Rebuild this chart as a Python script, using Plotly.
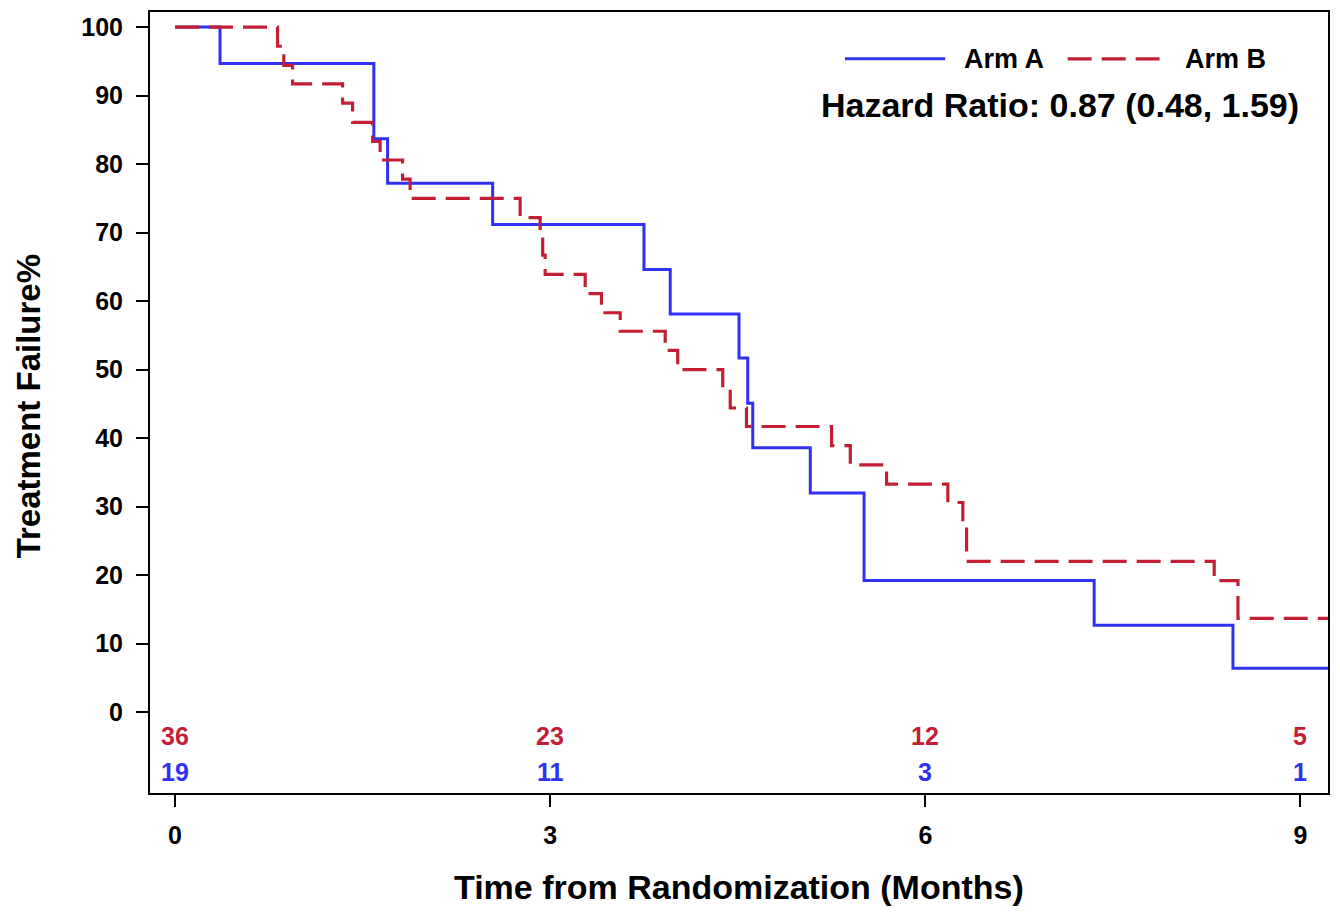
import plotly.graph_objects as go

# Arm A (blue, solid) Kaplan-Meier style steps
arm_a_t = [0, 0.36, 1.59, 1.70, 2.54, 3.75, 3.96, 4.51, 4.58, 4.62, 5.08, 5.51, 7.35, 8.46, 9.22]
arm_a_v = [100, 94.7, 83.7, 77.2, 71.2, 64.6, 58.1, 51.7, 45.1, 38.6, 32.0, 19.2, 12.7, 6.4, 6.4]

# Arm B (red, dashed)
arm_b_t = [0, 0.82, 0.87, 0.94, 1.34, 1.42, 1.58, 1.64, 1.82, 1.88, 2.76, 2.92, 2.94, 2.96,
           3.28, 3.41, 3.56, 3.92, 4.02, 4.38, 4.44, 4.57, 5.25, 5.40, 5.69, 6.18, 6.30, 6.33,
           8.31, 8.50, 9.22]
arm_b_v = [100, 97.2, 94.4, 91.7, 88.9, 86.1, 83.3, 80.6, 77.8, 75.0, 72.2, 69.4, 66.7, 63.9,
           61.1, 58.3, 55.6, 52.8, 50.0, 47.2, 44.4, 41.7, 38.9, 36.1, 33.3, 30.6, 27.8, 22.0,
           19.2, 13.7, 13.7]

# Numbers at risk
risk_times = [0, 3, 6, 9]
risk_b = [36, 23, 12, 5]
risk_a = [19, 11, 3, 1]

x_ticks = [0, 3, 6, 9]
y_ticks = list(range(0, 101, 10))

BLUE = "#3030f2"
RED = "#c21f35"
FONT = "Liberation Sans, Arial, sans-serif"

fig = go.Figure()
fig.add_trace(go.Scatter(x=arm_a_t, y=arm_a_v, mode="lines", line_shape="hv",
                         line=dict(color=BLUE, width=3), name="Arm A"))
fig.add_trace(go.Scatter(x=arm_b_t, y=arm_b_v, mode="lines", line_shape="hv",
                         line=dict(color=RED, width=3.2, dash="24px,10px"), name="Arm B"))

ann = []
for t, n in zip(risk_times, risk_b):
    ann.append(dict(x=t, y=-3.5, xref="x", yref="y", text=f"<b>{n}</b>", showarrow=False,
                    font=dict(family=FONT, size=25, color=RED), xanchor="center", yanchor="middle"))
for t, n in zip(risk_times, risk_a):
    ann.append(dict(x=t, y=-8.7, xref="x", yref="y", text=f"<b>{n}</b>", showarrow=False,
                    font=dict(family=FONT, size=25, color=BLUE), xanchor="center", yanchor="middle"))

# legend texts
ann.append(dict(x=0.689, y=0.940, xref="paper", yref="paper", text="<b>Arm A</b>", showarrow=False,
                font=dict(family=FONT, size=27, color="black"), xanchor="left", yanchor="middle"))
ann.append(dict(x=0.877, y=0.940, xref="paper", yref="paper", text="<b>Arm B</b>", showarrow=False,
                font=dict(family=FONT, size=27, color="black"), xanchor="left", yanchor="middle"))
ann.append(dict(x=0.7725, y=0.881, xref="paper", yref="paper",
                text="<b>Hazard Ratio: 0.87 (0.48, 1.59)</b>", showarrow=False,
                font=dict(family=FONT, size=34, color="black"), xanchor="center", yanchor="middle"))
# axis titles
ann.append(dict(x=0.5, y=-0.12, xref="paper", yref="paper",
                text="<b>Time from Randomization (Months)</b>", showarrow=False,
                font=dict(family=FONT, size=34, color="black"), xanchor="center", yanchor="middle"))
ann.append(dict(x=-0.1036, y=0.495, xref="paper", yref="paper",
                text="<b>Treatment Failure%</b>", showarrow=False, textangle=-90,
                font=dict(family=FONT, size=33, color="black"), xanchor="center", yanchor="middle"))

shapes = [
    dict(type="line", xref="paper", yref="paper", x0=0.590, x1=0.675, y0=0.940, y1=0.940,
         line=dict(color=BLUE, width=3)),
    dict(type="line", xref="paper", yref="paper", x0=0.779, x1=0.857, y0=0.940, y1=0.940,
         line=dict(color=RED, width=3.2, dash="24px,10px")),
]

fig.update_layout(
    width=1340, height=912,
    margin=dict(l=150, r=12, t=10, b=119),
    plot_bgcolor="white", paper_bgcolor="white",
    showlegend=False,
    annotations=ann, shapes=shapes,
    xaxis=dict(range=[-0.2, 9.22], tickvals=x_ticks, ticktext=[str(v) for v in x_ticks],
               showgrid=False, zeroline=False, showline=True, linecolor="black", linewidth=2,
               mirror=True, ticks="outside", ticklen=12, tickwidth=2, tickcolor="black",
               ticklabelstandoff=7,
               tickfont=dict(family=FONT, size=25, color="black", weight="bold")),
    yaxis=dict(range=[-11.8, 102.2], tickvals=y_ticks, ticktext=[str(v) for v in y_ticks],
               showgrid=False, zeroline=False, showline=True, linecolor="black", linewidth=2,
               mirror=True, ticks="outside", ticklen=12, tickwidth=2, tickcolor="black",
               ticklabelstandoff=8,
               tickfont=dict(family=FONT, size=25, color="black", weight="bold")),
)

fig.write_html("out.html")
